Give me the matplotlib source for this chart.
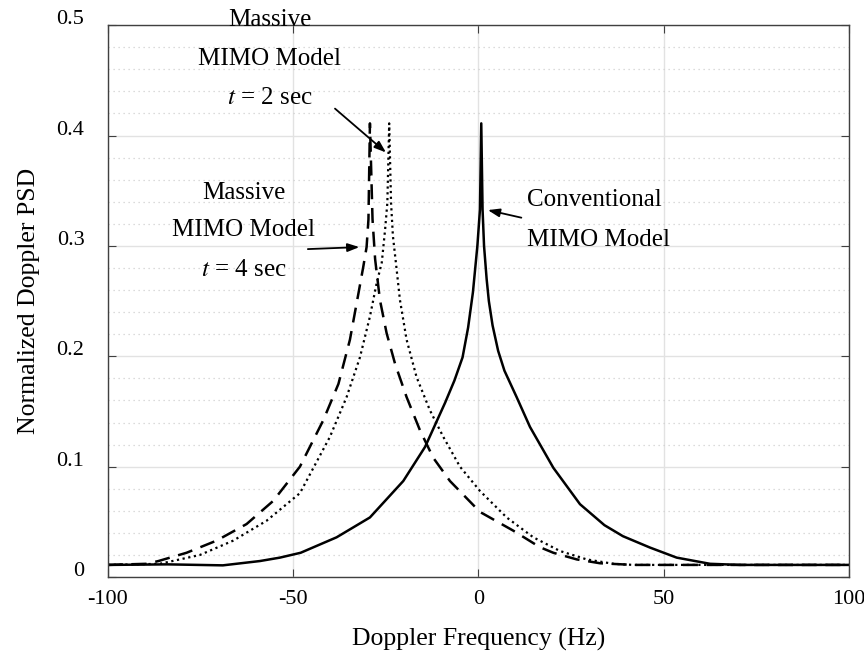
"""Normalized Doppler PSD: conventional vs massive MIMO channel model."""

import matplotlib
matplotlib.use("Agg")
import matplotlib.pyplot as plt
import matplotlib.transforms as mtransforms
from matplotlib.ticker import MultipleLocator

plt.rcParams["font.family"] = ["Liberation Serif", "DejaVu Serif"]
plt.rcParams["mathtext.fontset"] = "stix"
plt.rcParams["axes.unicode_minus"] = False

# conventional MIMO model (solid)
conv_f = [-100, -84, -69, -59, -53.6, -48, -38.3, -29.3, -20.3, -14.4, -9.0,
          -6.5, -4.3, -2.8, -1.5, -0.3, 0.4, 0.75, 1.1, 1.5, 2.2, 2.8, 3.8,
          5.3, 7.0, 10.3, 13.9, 20.2, 27.4, 34, 39, 46.3, 53.5, 62.5, 70.6, 100]
conv_psd = [0.011, 0.0115, 0.0106, 0.0145, 0.0176, 0.022, 0.036, 0.054, 0.087,
            0.118, 0.158, 0.178, 0.199, 0.226, 0.258, 0.30, 0.333, 0.411,
            0.333, 0.30, 0.27, 0.25, 0.228, 0.205, 0.187, 0.163, 0.136, 0.099,
            0.066, 0.047, 0.037, 0.0267, 0.0176, 0.012, 0.011, 0.011]

# massive MIMO model, t = 4 sec (dashed)
t4_f = [-100, -89.6, -86.4, -78.8, -70.7, -62.6, -55.4, -48.2, -41.9, -37.8,
        -34.7, -32.4, -31.1, -30.2, -29.7, -29.3, -28.6, -27.9, -26.6, -24.8,
        -22.5, -19.4, -15.8, -12.2, -7.7, 0.4, 9.4, 16.6, 20.2, 26.5, 32.8,
        41.8, 100]
t4_psd = [0.011, 0.012, 0.0145, 0.022, 0.033, 0.048, 0.069, 0.1, 0.142, 0.175,
          0.215, 0.257, 0.281, 0.299, 0.324, 0.411, 0.324, 0.288, 0.251, 0.221,
          0.193, 0.163, 0.133, 0.108, 0.087, 0.059, 0.042, 0.027, 0.022, 0.016,
          0.0125, 0.011, 0.011]

# massive MIMO model, t = 2 sec (dotted)
t2_f = [-100, -86, -75.2, -66.2, -57.2, -48.2, -40.1, -35.6, -32, -29.3,
        -27.5, -26.1, -25.2, -24.6, -24.1, -23.6, -23.1, -22.3, -21.2, -19.4,
        -16.7, -13.1, -9.5, -5, 0.4, 7.6, 14.8, 22, 29.2, 36.4, 41.8, 100]
t2_psd = [0.011, 0.012, 0.020, 0.033, 0.051, 0.076, 0.127, 0.163, 0.199, 0.236,
          0.266, 0.285, 0.315, 0.339, 0.411, 0.339, 0.309, 0.285, 0.251, 0.215,
          0.181, 0.151, 0.127, 0.100, 0.078, 0.054, 0.036, 0.0236, 0.016,
          0.012, 0.011, 0.011]

y_ticks = [0, 0.1, 0.2, 0.3, 0.4, 0.5]
y_tick_labels = ["0", "0.1", "0.2", "0.3", "0.4", "0.5"]
x_ticks = [-100, -50, 0, 50, 100]
x_tick_labels = ["-100", "-50", "0", "50", "100"]

fig = plt.figure(figsize=(8.64, 6.61), dpi=100)
ax = fig.add_axes([0.125, 0.127, 0.8576, 0.835])

ax.plot(t4_f, t4_psd, color="black", lw=1.8, ls=(0, (6, 3.5)))
ax.plot(t2_f, t2_psd, color="black", lw=1.6, ls=(0, (1, 1.6)))
ax.plot(conv_f, conv_psd, color="black", lw=1.8)

ax.set_xlim(-100, 100)
ax.set_ylim(0, 0.5)
ax.set_xticks(x_ticks, x_tick_labels)
ax.set_yticks(y_ticks, y_tick_labels)
ax.yaxis.set_minor_locator(MultipleLocator(0.02))

ax.grid(which="major", color="#e2e2e2", lw=1.0, ls="-")
ax.grid(which="minor", axis="y", color="#d0d0d0", lw=0.9, ls=(0, (1, 3)))
ax.set_axisbelow(True)
ax.tick_params(which="major", direction="in", length=6, top=True, right=True,
               labelsize=16, color="#404040")
ax.tick_params(axis="x", pad=9)
ax.tick_params(axis="y", pad=17)
ax.tick_params(which="minor", length=0)
for s in ax.spines.values():
    s.set_color("#404040")
    s.set_linewidth(1.0)

# y labels sit a little above their ticks
shift = mtransforms.ScaledTranslation(0, 8 / 100, fig.dpi_scale_trans)
for lab in ax.get_yticklabels():
    lab.set_transform(lab.get_transform() + shift)

ax.set_xlabel("Doppler Frequency (Hz)", fontsize=18.5, labelpad=14)
ax.set_ylabel("Normalized Doppler PSD", fontsize=18.5, labelpad=12)

fs = 18
for txt, y in [("Massive", 0.505), ("MIMO Model", 0.469), (r"$t$ = 2 sec", 0.434)]:
    ax.text(-56.3, y, txt, ha="center", va="center", fontsize=fs, clip_on=False)
for txt, y in [("Massive", 0.348), ("MIMO Model", 0.314), (r"$t$ = 4 sec", 0.278)]:
    ax.text(-63.3, y, txt, ha="center", va="center", fontsize=fs)
for txt, y in [("Conventional", 0.342), ("MIMO Model", 0.305)]:
    ax.text(13.1, y, txt, ha="left", va="center", fontsize=fs)

arrow = dict(arrowstyle="-|>,head_length=0.7,head_width=0.25", color="black", lw=1.3)
ax.annotate("", xy=(-24.4, 0.383), xytext=(-39.3, 0.426), arrowprops=arrow)
ax.annotate("", xy=(-31.4, 0.299), xytext=(-46.8, 0.297), arrowprops=arrow)
ax.annotate("", xy=(1.8, 0.333), xytext=(12.3, 0.325), arrowprops=arrow)

fig.savefig("out.png", dpi=100)
